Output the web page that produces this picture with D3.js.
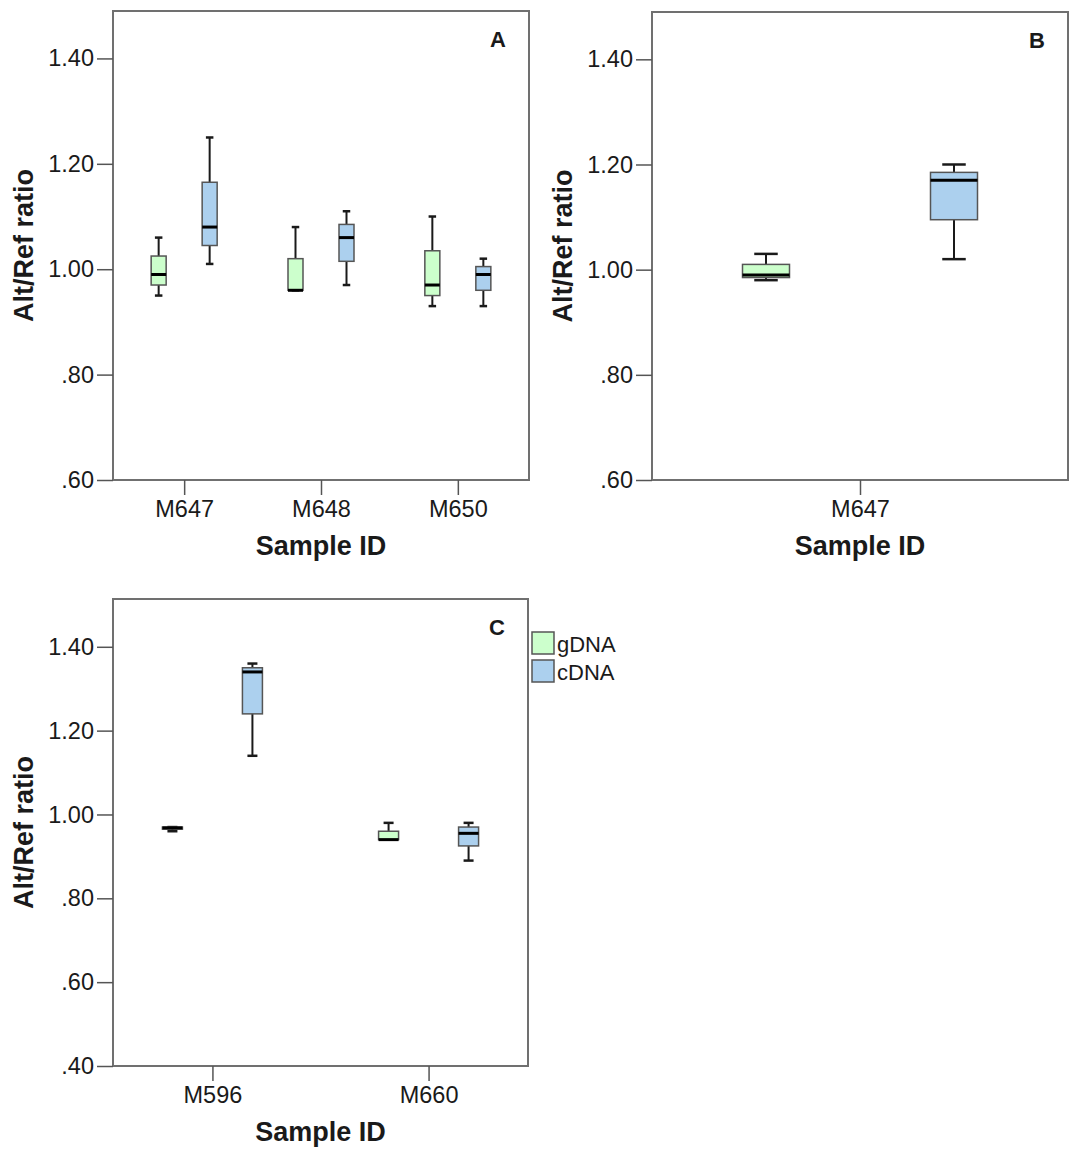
<!DOCTYPE html>
<html>
<head>
<meta charset="utf-8">
<script src="https://cdn.jsdelivr.net/npm/d3@7"></script>
<style>
  body { margin: 0; background: #fff; }
  text { font-family: "Liberation Sans", Arial, sans-serif; fill: #1a1a1a; }
</style>
</head>
<body>
<svg id="chart" width="1071" height="1151"></svg>
<script>
// groups (legend)
var groups = ["gDNA", "cDNA"];

// categories per panel
var samplesA = ["M647", "M648", "M650"];
var samplesB = ["M647"];
var samplesC = ["M596", "M660"];

// box stats: [min, q1, median, q3, max], one row per sample
var gdnaA = [[0.95, 0.97, 0.99, 1.025, 1.06], [0.96, 0.96, 0.96, 1.02, 1.08], [0.93, 0.95, 0.97, 1.035, 1.10]];
var cdnaA = [[1.01, 1.045, 1.08, 1.165, 1.25], [0.97, 1.015, 1.06, 1.085, 1.11], [0.93, 0.96, 0.99, 1.005, 1.02]];
var gdnaB = [[0.98, 0.985, 0.99, 1.01, 1.03]];
var cdnaB = [[1.02, 1.095, 1.17, 1.185, 1.20]];
var gdnaC = [[0.96, 0.965, 0.968, 0.97, 0.97], [0.94, 0.94, 0.94, 0.96, 0.98]];
var cdnaC = [[1.14, 1.24, 1.34, 1.35, 1.36], [0.89, 0.925, 0.955, 0.97, 0.98]];

// y tick labels
var ticksAB = [0.6, 0.8, 1.0, 1.2, 1.4];
var ticksC = [0.4, 0.6, 0.8, 1.0, 1.2, 1.4];

var color = { gDNA: "#ccffcc", cDNA: "#acd0ee" };

var svg = d3.select("#chart");

var fmt = function(v) {
  var s = d3.format(".2f")(v);
  return s.charAt(0) == "0" ? s.slice(1) : s;
};

var panels = [
  {label: "A", samples: samplesA, g: gdnaA, c: cdnaA, ticks: ticksAB, ydom: [0.6, 1.49],
   left: 113, top: 11, right: 529, bottom: 480, pad: 0.52, off: 25.5, bw: 15, ytitleX: 33},
  {label: "B", samples: samplesB, g: gdnaB, c: cdnaB, ticks: ticksAB, ydom: [0.6, 1.49],
   left: 652, top: 12, right: 1068, bottom: 480, pad: 0.5, off: 94, bw: 47, ytitleX: 572},
  {label: "C", samples: samplesC, g: gdnaC, c: cdnaC, ticks: ticksC, ydom: [0.4, 1.514],
   left: 113, top: 599, right: 528, bottom: 1066, pad: 0.46, off: 40, bw: 20, ytitleX: 33}
];

panels.forEach(function(p) {
  var x = d3.scalePoint().domain(p.samples).range([p.left, p.right]).padding(p.pad);
  var x1 = d3.scaleBand().domain(groups).range([-2 * p.off, 2 * p.off]);
  var y = d3.scaleLinear().domain(p.ydom).range([p.bottom, p.top]);
  var g = svg.append("g");

  // frame
  g.append("rect")
    .attr("x", p.left).attr("y", p.top)
    .attr("width", p.right - p.left).attr("height", p.bottom - p.top)
    .attr("fill", "none").attr("stroke", "#707070").attr("stroke-width", 2);

  // y axis
  var yAxis = d3.axisLeft(y).tickValues(p.ticks).tickFormat(fmt).tickSize(16).tickPadding(3);
  var ya = g.append("g").attr("transform", "translate(" + p.left + ",0)").call(yAxis);
  ya.select(".domain").remove();
  ya.selectAll("line").attr("stroke", "#555").attr("stroke-width", 1.5);
  ya.selectAll("text").style("font-size", "23.5px").attr("fill", "#1a1a1a");

  // x axis
  var xAxis = d3.axisBottom(x).tickSize(15).tickPadding(5);
  var xa = g.append("g").attr("transform", "translate(0," + p.bottom + ")").call(xAxis);
  xa.select(".domain").remove();
  xa.selectAll("line").attr("stroke", "#555").attr("stroke-width", 1.5);
  xa.selectAll("text").style("font-size", "23.5px").attr("fill", "#1a1a1a");

  // titles
  g.append("text")
    .attr("x", (p.left + p.right) / 2).attr("y", p.bottom + 75)
    .attr("text-anchor", "middle")
    .style("font-size", "27px").style("font-weight", "bold")
    .text("Sample ID");
  g.append("text")
    .attr("transform", "translate(" + p.ytitleX + "," + ((p.top + p.bottom) / 2) + ") rotate(-90)")
    .attr("text-anchor", "middle")
    .style("font-size", "27px").style("font-weight", "bold")
    .text("Alt/Ref ratio");
  g.append("text")
    .attr("x", p.right - 31).attr("y", p.top + 36)
    .attr("text-anchor", "middle")
    .style("font-size", "22px").style("font-weight", "bold")
    .text(p.label);

  // boxes
  var rows = [];
  p.samples.forEach(function(s, i) {
    rows.push({sample: s, group: "gDNA", v: p.g[i]});
    rows.push({sample: s, group: "cDNA", v: p.c[i]});
  });

  var cx = function(d) { return x(d.sample) + x1(d.group) + x1.bandwidth() / 2; };
  var bx = g.selectAll(".box").data(rows).enter().append("g").attr("class", "box");

  // whisker stems
  bx.append("line")
    .attr("x1", cx).attr("x2", cx)
    .attr("y1", function(d) { return y(d.v[4]); })
    .attr("y2", function(d) { return y(d.v[0]); })
    .attr("stroke", "#1a1a1a").attr("stroke-width", 2);
  // caps
  [0, 4].forEach(function(k) {
    bx.append("line")
      .attr("x1", function(d) { return cx(d) - p.bw / 4; })
      .attr("x2", function(d) { return cx(d) + p.bw / 4; })
      .attr("y1", function(d) { return y(d.v[k]); })
      .attr("y2", function(d) { return y(d.v[k]); })
      .attr("stroke", "#1a1a1a").attr("stroke-width", 2.5);
  });
  // box
  bx.append("rect")
    .attr("x", function(d) { return cx(d) - p.bw / 2; })
    .attr("y", function(d) { return y(d.v[3]); })
    .attr("width", p.bw)
    .attr("height", function(d) { return Math.max(0.5, y(d.v[1]) - y(d.v[3])); })
    .attr("fill", function(d) { return color[d.group]; })
    .attr("stroke", "#555").attr("stroke-width", 1.5);
  // median
  bx.append("line")
    .attr("x1", function(d) { return cx(d) - p.bw / 2; })
    .attr("x2", function(d) { return cx(d) + p.bw / 2; })
    .attr("y1", function(d) { return y(d.v[2]); })
    .attr("y2", function(d) { return y(d.v[2]); })
    .attr("stroke", "#000").attr("stroke-width", 3);
});

// legend
var legend = svg.append("g").attr("transform", "translate(532,632)");
groups.forEach(function(gr, i) {
  legend.append("rect")
    .attr("x", 0).attr("y", i * 28)
    .attr("width", 22).attr("height", 22)
    .attr("fill", color[gr]).attr("stroke", "#555").attr("stroke-width", 1.5);
  legend.append("text")
    .attr("x", 25).attr("y", i * 28 + 20)
    .style("font-size", "22px")
    .text(gr);
});
</script>
</body>
</html>
